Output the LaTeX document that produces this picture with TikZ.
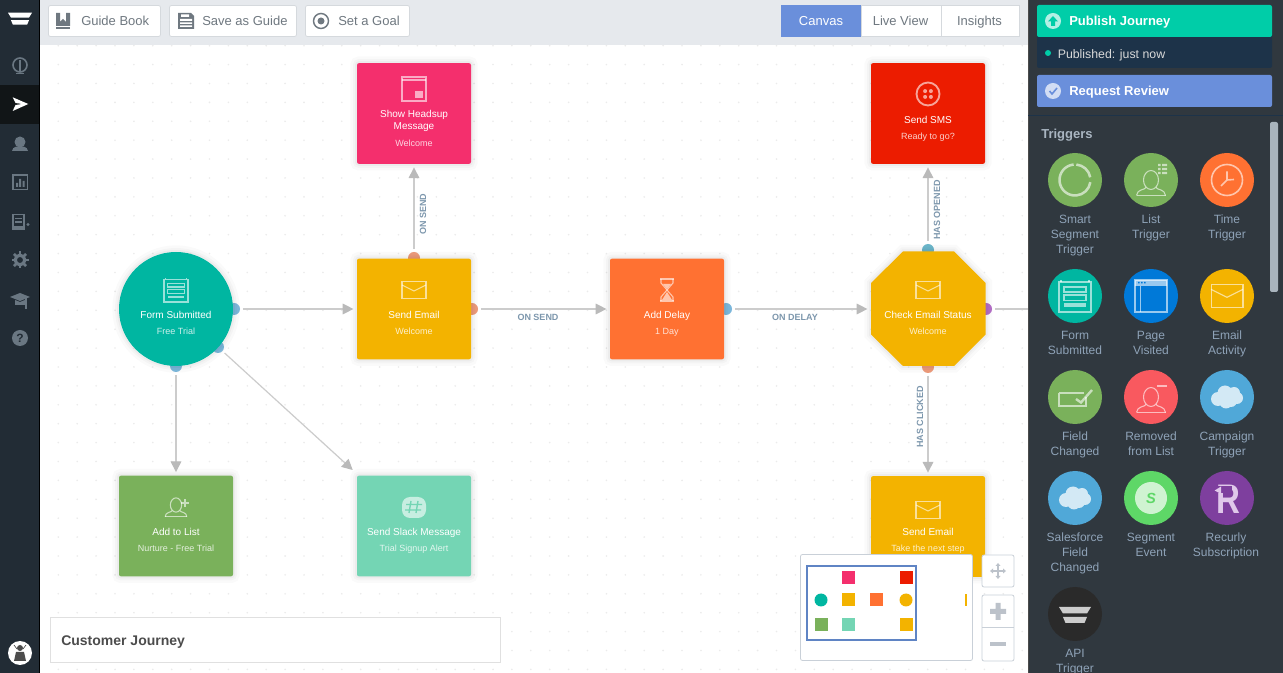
\documentclass[tikz,border=0pt]{standalone}
\usepackage{fontspec}
\setmainfont{Liberation Sans}
\usepackage{xcolor}
\usetikzlibrary{calc}
\usetikzlibrary{arrows.meta}

\definecolor{sideBg}{HTML}{222C35}
\definecolor{sideOn}{HTML}{111517}
\definecolor{sideIc}{HTML}{6A7782}
\definecolor{barBg}{HTML}{E6E9ED}
\definecolor{btnLine}{HTML}{D5D9DD}
\definecolor{boxLine}{HTML}{C9D0D8}
\definecolor{ctlIc}{HTML}{BCC2CA}
\definecolor{btnTxt}{HTML}{6F7880}
\definecolor{blueOn}{HTML}{6A8FDB}
\definecolor{mapBlue}{HTML}{5F84C4}
\definecolor{panelBg}{HTML}{30383F}
\definecolor{pubGreen}{HTML}{00CDA8}
\definecolor{pubDark}{HTML}{1D3349}
\definecolor{trigTxt}{HTML}{8FA3B8}
\definecolor{headTxt}{HTML}{A9B5C1}
\definecolor{scrollBar}{HTML}{A9B4BD}
\definecolor{edgeTxt}{HTML}{7D97AD}
\definecolor{cPink}{HTML}{F42F6D}
\definecolor{cRed}{HTML}{EC1C00}
\definecolor{cYellow}{HTML}{F3B300}
\definecolor{cOrange}{HTML}{FF7132}
\definecolor{cTeal}{HTML}{00B6A1}
\definecolor{cGreen}{HTML}{7AB15B}
\definecolor{cMint}{HTML}{74D5B4}
\definecolor{cBlue}{HTML}{0079D8}
\definecolor{cCoral}{HTML}{F9595F}
\definecolor{cSky}{HTML}{50A8D8}
\definecolor{cLime}{HTML}{5ED767}
\definecolor{cPurple}{HTML}{7E3F9E}
\definecolor{cLilac}{HTML}{E0C8EA}
\definecolor{cBlack}{HTML}{2A2A2A}
\definecolor{portBlue}{HTML}{7DB9DD}
\definecolor{portOrange}{HTML}{EE9C7C}
\definecolor{portPurple}{HTML}{B56FC8}
\definecolor{portTeal}{HTML}{6DB8CC}

\tikzset{
  softshadow/.style={
    preaction={draw=black,draw opacity=.02,line width=10pt},
    preaction={draw=black,draw opacity=.025,line width=6pt},
    preaction={draw=black,draw opacity=.03,line width=3pt}},
  stepbox/.style={rectangle,rounded corners=1.5pt,minimum width=85.5pt,minimum height=75.5pt,inner sep=0pt,softshadow},
  stepround/.style={circle,minimum size=85.5pt,inner sep=0pt,softshadow},
  port/.style={circle,minimum size=9pt,inner sep=0pt},
  conn/.style={draw=black!20,line width=.9pt,-{Triangle[length=8pt,width=8pt,color=black!27]},shorten <=2pt,shorten >=2.5pt},
  titletxt/.style={text=white,anchor=base,font=\fontsize{7.5}{9}\selectfont,align=center,inner sep=0pt},
  subtxt/.style={text=white,anchor=base,text opacity=.8,font=\fontsize{6.75}{8}\selectfont,inner sep=0pt},
  edgelab/.style={text=edgeTxt,font=\bfseries\fontsize{6.75}{8}\selectfont,inner sep=0pt},
  icon/.style={draw=white,draw opacity=.6,line width=.8pt},
  iconf/.style={fill=white,fill opacity=.6},
  btn/.style={draw=btnLine,fill=white,rounded corners=1.5pt,line width=.6pt},
  btntxt/.style={text=btnTxt,anchor=base,font=\fontsize{9.75}{12}\selectfont,inner sep=0pt},
  paneltxt/.style={text=white,anchor=base west,inner sep=0pt,font=\bfseries\fontsize{9.75}{12}\selectfont},
  trig/.style={circle,minimum size=40.5pt,inner sep=0pt},
  triglab/.style={text=trigTxt,anchor=north,align=center,inner sep=0pt,font=\fontsize{9}{11.25}\selectfont},
  mini/.style={rectangle,minimum size=9.75pt,inner sep=0pt},
  sideic/.style={draw=sideIc,line width=1.2pt},
  mailic/.pic={
    \draw[icon] (-12,-8.5) rectangle (12,8.5);
    \draw[icon] (-12,-5) -- (0,1) -- (12,-5);},
  formic/.pic={
    \draw[icon] (-16,-14) rectangle (16,16);
    \draw[icon] (-14,-16) -- (-14,-14) (14,-16) -- (14,-14);
    \draw[icon] (-11,-9) rectangle (11,-4);
    \draw[icon] (-11,-1) rectangle (11,4.5);
    \fill[iconf] (-11,7.5) rectangle (11,11);},
  personic/.pic={
    \draw[icon] (0,0) ellipse (7.5 and 9.5);
    \draw[icon] (-14.5,15.5) .. controls (-14,9) and (-6,10) .. (-5,7.5);
    \draw[icon] (14.5,15.5) .. controls (14,9) and (6,10) .. (5,7.5);
    \draw[icon] (-14.5,15.5) -- (14.5,15.5);},
  cloudic/.pic={
    \fill[fill=#1] (-9,2) circle (7) (-2,-4) circle (7.5) (7,-4) circle (6) (10,1) circle (6) (-1,5) circle (6.5) (4,4) circle (6);},
  logoic/.pic={
    \fill[fill=#1] (-16,-7) -- (16,-7) -- (12,-.5) -- (-12,-.5) -- cycle;
    \fill[fill=#1] (-12,3) -- (12,3) -- (9.5,9) -- (-9.5,9) -- cycle;},
}

\begin{document}
\begin{tikzpicture}[x=0.75pt,y=-0.75pt]
\useasboundingbox (0,0) rectangle (1283,673);
\fill[white] (0,0) rectangle (1283,673);

\foreach \i in {0,...,51}
  \foreach \j in {0,...,33}
    \fill[black!8] (58.3+\i*18.9,45.7+\j*18.9) circle (.9);

\coordinate (offRight) at (1032,309);

\node[port,fill=portBlue] (formE) at (234,309) {};
\node[port,fill=portBlue] (formSE) at (218,347) {};
\node[port,fill=portBlue] (formS) at (176,366) {};
\node[port,fill=portOrange] (emailN) at (414,258) {};
\node[port,fill=portOrange] (emailE) at (472,309) {};
\node[port,fill=portBlue] (delayE) at (726,309) {};
\node[port,fill=portTeal] (checkN) at (928,250) {};
\node[port,fill=portPurple] (checkE) at (986,309) {};
\node[port,fill=portOrange] (checkS) at (928,367) {};

\node[stepround,fill=cTeal] (form) at (176,309) {};
\node[stepbox,fill=cYellow] (email) at (414,309) {};
\node[stepbox,fill=cPink] (headsup) at (414,113.5) {};
\node[stepbox,fill=cOrange] (delay) at (667,309) {};
\path[softshadow,fill=cYellow] (903,251.5) -- (954,251.5) -- (985.5,283) -- (985.5,334.5) -- (954,366) -- (903,366) -- (871,334.5) -- (871,283) -- cycle;
\node[circle,minimum size=85.5pt,inner sep=0pt] (check) at (928,309) {};
\node[stepbox,fill=cRed] (sms) at (928,113.5) {};
\node[stepbox,fill=cYellow] (email2) at (928,526.5) {};
\node[stepbox,fill=cGreen] (addlist) at (176,526) {};
\node[stepbox,fill=cMint] (slack) at (414,526) {};

\draw[conn] (formE) -- (email);
\draw[conn] (formS) -- (addlist);
\draw[conn,shorten >=6pt] (formSE) -- (slack);
\draw[conn] (emailN) -- (headsup);
\draw[conn] (emailE) -- (delay);
\draw[conn] (delayE) -- (check);
\draw[conn] (checkN) -- (sms);
\draw[conn] (checkS) -- (email2);
\draw[conn,-] (checkE) -- (offRight);

\node[edgelab,rotate=90] (lblSendUp) at (423,214) {ON SEND};
\node[edgelab] (lblSend) at (538,317.5) {ON SEND};
\node[edgelab] (lblDelay) at (795,317.5) {ON DELAY};
\node[edgelab,rotate=90] (lblOpened) at (937,210) {HAS OPENED};
\node[edgelab,rotate=90] (lblClicked) at (920,417) {HAS CLICKED};

\pic[scale=.75] at (176,290) {formic};
\node[titletxt] (formT) at (176,319) {Form Submitted};
\node[subtxt] (formS2) at (176,335) {Free Trial};

\pic at (414,290) {mailic};
\node[titletxt] (emailT) at (414,319) {Send Email};
\node[subtxt] (emailS2) at (414,335) {Welcome};

\draw[icon] (402,77) rectangle (426,101);
\draw[icon] (402,80) -- (426,80);
\fill[iconf] (415,91) rectangle (423,98);
\node[titletxt,anchor=center] (headsupT) at (414,121) {Show Headsup\\Message};
\node[subtxt] (headsupS2) at (414,146.5) {Welcome};

\draw[icon] (660,279) -- (674,279) (660,301) -- (674,301);
\draw[icon] (661,279) -- (661,283) -- (667,290) -- (661,297) -- (661,301);
\draw[icon] (673,279) -- (673,283) -- (667,290) -- (673,297) -- (673,301);
\fill[iconf] (663,284) -- (671,284) -- (667,289) -- cycle;
\fill[iconf] (667,292) -- (672,300) -- (662,300) -- cycle;
\node[titletxt] (delayT) at (667,319) {Add Delay};
\node[subtxt] (delayS2) at (667,335) {1 Day};

\pic at (928,290) {mailic};
\node[titletxt] (checkT) at (928,319) {Check Email Status};
\node[subtxt] (checkS2) at (928,335) {Welcome};

\draw[icon,line width=1.4pt] (928,94) circle (11.5);
\foreach \dx in {-2.9,2.9}
  \foreach \dy in {-2.9,2.9}
    \fill[iconf] (928+\dx,94+\dy) circle (2);
\node[titletxt] (smsT) at (928,123.5) {Send SMS};
\node[subtxt] (smsS2) at (928,140) {Ready to go?};

\pic at (928,510) {mailic};
\node[titletxt] (email2T) at (928,536) {Send Email};
\node[subtxt] (email2S2) at (928,552) {Take the next step};

\pic[scale=.75] at (176,505) {personic};
\draw[icon] (185,499) -- (185,507) (181,503) -- (189,503);
\node[titletxt] (addlistT) at (176,536) {Add to List};
\node[subtxt] (addlistS2) at (176,552) {Nurture - Free Trial};

\fill[iconf,rounded corners=6pt] (402,497) rectangle (426,518);
\draw[draw=cMint,line width=1pt] (411,501) -- (409,513) (418,501) -- (416,513) (406,504.5) -- (422,504.5) (405,510) -- (421,510);
\node[titletxt] (slackT) at (414,536) {Send Slack Message};
\node[subtxt] (slackS2) at (414,552) {Trial Signup Alert};

\fill[barBg] (40,0) rectangle (1028,45);
\draw[btn] (48.5,5.5) rectangle (160.5,36.5);
\draw[btn] (169.5,5.5) rectangle (296.5,36.5);
\draw[btn] (305.5,5.5) rectangle (409.5,36.5);
\fill[btnTxt] (56,13) -- (60,13) -- (60,22) -- (63,19) -- (66,22) -- (66,13) -- (70,13) -- (70,26) -- (56,26) -- cycle;
\fill[btnTxt] (56,27.5) rectangle (70,29);
\fill[btnTxt] (178,13) -- (191,13) -- (194,16) -- (194,29) -- (178,29) -- cycle;
\fill[white] (180,19) rectangle (192,21) (180,22.5) rectangle (192,24) (180,25.5) rectangle (192,27) (181,14.5) rectangle (189,17);
\draw[btnTxt,line width=1.1pt] (321,21) circle (7.5);
\fill[btnTxt] (321,21) circle (3.5);
\node[btntxt,anchor=base west] (guideT) at (81,25.5) {Guide Book};
\node[btntxt,anchor=base west] (saveT) at (202,25.5) {Save as Guide};
\node[btntxt,anchor=base west] (goalT) at (338,25.5) {Set a Goal};

\draw[btn,sharp corners,draw=blueOn,fill=blueOn] (781.5,5.5) rectangle (861,36.5);
\draw[btn,sharp corners] (861,5.5) rectangle (941,36.5);
\draw[btn,sharp corners] (941,5.5) rectangle (1019.5,36.5);
\node[btntxt,text=white] (canvasT) at (821,25.5) {Canvas};
\node[btntxt] (liveT) at (900.5,25.5) {Live View};
\node[btntxt] (insightsT) at (979.5,25.5) {Insights};

\fill[sideBg] (0,0) rectangle (39,673);
\fill[black] (39,0) rectangle (40,673);
\fill[sideOn] (0,85) rectangle (39,124);
\pic[scale=.75] at (20,18) {logoic=white};
\draw[sideic] (20,65) circle (7);
\draw[sideic] (20,60) -- (20,72) (16,73.5) -- (24,73.5);
\fill[white] (12.7,97.3) -- (28.3,104) -- (12.7,111) -- (15.5,105) -- (22,104) -- (15.5,103) -- cycle;
\fill[sideIc] (20,142) circle (5.5);
\fill[sideIc] (12,151) .. controls (13,146) and (17,147) .. (20,146) .. controls (23,147) and (27,146) .. (28,151) -- cycle;
\draw[sideic] (12.8,175) rectangle (27.5,189.5);
\fill[sideIc] (16,183) rectangle (18,187) (19.2,179) rectangle (21.2,187) (22.5,181) rectangle (24.5,187);
\draw[sideic] (13,214.5) rectangle (24,227);
\draw[sideic] (15,218.5) -- (22,218.5) (15,222) -- (22,222) (12,229) -- (25,229);
\fill[sideIc] (28,224.5) circle (1.7);
\draw[sideic,line width=2.4pt] (20,260) circle (4.8);
\foreach \a in {0,45,...,315}
  \draw[sideic,line width=2pt] (20,260) ++(\a:5.5) -- ++(\a:3);
\fill[sideIc] (10,297) -- (20,293) -- (30,297) -- (20,301) -- cycle;
\fill[sideIc] (15,300) -- (20,302) -- (25,300) -- (25,305) -- (15,305) -- cycle;
\draw[sideic,line width=.8pt] (26,298) -- (26,309);
\fill[sideIc] (20,338) circle (8);
\node[text=sideBg,inner sep=0pt,font=\bfseries\fontsize{9}{9}\selectfont] (helpT) at (20,338) {?};
\fill[white] (20,653) circle (12);
\fill[black!70] (20,648) circle (3) (14,661) -- (16,652) -- (24,652) -- (26,661) -- cycle;
\draw[black!70,line width=.5pt] (14,645) -- (17,649) (26,645) -- (23,649);

\draw[draw=black!12,fill=white,line width=.6pt] (50.5,617.5) rectangle (500.5,662.5);
\node[paneltxt,text=black!70,font=\bfseries\fontsize{10.5}{12}\selectfont] (journeyT) at (61,645.5) {Customer Journey};

\draw[btn,draw=boxLine] (800.5,554.5) rectangle (972.5,660.5);
\draw[mapBlue,line width=1.5pt] (807,566.5) rectangle (916,640);
\foreach \nm/\xx/\yy/\cc in {mmHead/848/578/cPink,mmSms/906/578/cRed,mmEmail/848/600/cYellow,mmDelay/876.5/600/cOrange,mmAdd/821/624.5/cGreen,mmSlack/848/624.5/cMint,mmEmail2/906/624.5/cYellow}
  \node[mini,fill=\cc] (\nm) at (\xx,\yy) {};
\node[mini,circle,fill=cTeal] (mmForm) at (821,600) {};
\node[mini,circle,fill=cYellow] (mmCheck) at (906,600) {};
\node[rectangle,fill=cYellow,inner sep=0pt,minimum width=1.5pt,minimum height=9pt] (mmNext) at (966,600) {};

\draw[btn,draw=boxLine] (982,555) rectangle (1014,587);
\draw[btn,draw=boxLine] (982,595) rectangle (1014,661);
\draw[boxLine] (982,627.5) -- (1014,627.5);
\draw[ctlIc,line width=1pt] (992,571) -- (1004,571) (998,565) -- (998,577);
\fill[ctlIc] (990,571) -- (993,568.5) -- (993,573.5) -- cycle (1006,571) -- (1003,568.5) -- (1003,573.5) -- cycle (998,563) -- (995.5,566) -- (1000.5,566) -- cycle (998,579) -- (995.5,576) -- (1000.5,576) -- cycle;
\fill[ctlIc] (990,609) rectangle (1006,614) (995.5,603) rectangle (1000.5,620);
\fill[ctlIc] (990,642) rectangle (1006,646.5);

\fill[panelBg] (1028,0) rectangle (1283,673);
\draw[black!70,line width=.5pt] (1028.3,0) -- (1028.3,673);
\fill[pubDark,rounded corners=1.5pt] (1037,30) rectangle (1272,68);
\fill[pubGreen,rounded corners=1.5pt] (1037,5) rectangle (1272,37);
\fill[blueOn,rounded corners=1.5pt] (1037,75) rectangle (1272,107);
\draw[pubDark,line width=.5pt] (1028,115) -- (1283,115);
\fill[white,fill opacity=.7] (1053,21) circle (8);
\fill[pubGreen] (1053,16) -- (1058,21.5) -- (1055,21.5) -- (1055,26) -- (1051,26) -- (1051,21.5) -- (1048,21.5) -- cycle;
\fill[white,fill opacity=.7] (1053,91) circle (8);
\draw[blueOn,line width=1.2pt] (1049.5,91) -- (1052,94) -- (1057,88);
\fill[pubGreen] (1048,53) circle (3);
\node[paneltxt] (publishT) at (1069,26) {Publish Journey};
\node[paneltxt,text=black!15,font=\fontsize{9.25}{11}\selectfont] (publishedT) at (1057.5,58.5) {Published: just now};
\node[paneltxt] (reviewT) at (1069,96) {Request Review};
\node[paneltxt,text=headTxt] (triggersT) at (1041,138.5) {Triggers};
\fill[scrollBar,rounded corners=1.5pt] (1270,122) rectangle (1278,292);

\node[trig,fill=cGreen] (smart) at (1075,180) {};
\draw[icon,line width=1.9pt] ($(1075,180)+(-95:15.5)$) arc[start angle=-95,end angle=-352,radius=15.5];
\draw[icon,line width=1.9pt] ($(1075,180)+(-85:15.5)$) arc[start angle=-85,end angle=-10,radius=15.5];
\node[triglab] (smartT) at (1075,214.5) {Smart\\Segment\\Trigger};

\node[trig,fill=cGreen] (listtrig) at (1151,180) {};
\pic at (1151,180) {personic};
\foreach \yy in {165,169,173}
  \fill[iconf] (1158,\yy-1.2) rectangle (1160.5,\yy+1.2) (1162,\yy-1.2) rectangle (1167,\yy+1.2);
\node[triglab] (listT) at (1151,214.5) {List\\Trigger};

\node[trig,fill=cOrange] (timetrig) at (1227,180) {};
\draw[icon,line width=1.2pt] (1227,180) circle (15.5);
\draw[icon,line width=1.2pt] (1227,171.5) -- (1227,180) -- (1234,179.5) (1227,180) -- (1221,186);
\node[triglab] (timeT) at (1227,214.5) {Time\\Trigger};

\node[trig,fill=cTeal] (formtrig) at (1075,296) {};
\pic at (1075,296) {formic};
\node[triglab] (formtrigT) at (1075,330.5) {Form\\Submitted};

\node[trig,fill=cBlue] (pagetrig) at (1151,296) {};
\draw[icon] (1135,280) rectangle (1167,312);
\fill[iconf] (1135,280) rectangle (1167,286);
\fill[cBlue] (1138,282) rectangle (1139.5,283.5) (1141,282) rectangle (1142.5,283.5) (1144,282) rectangle (1145.5,283.5);
\draw[icon] (1140.5,286) -- (1140.5,312);
\node[triglab] (pagetrigT) at (1151,330.5) {Page\\Visited};

\node[trig,fill=cYellow] (emailtrig) at (1227,296) {};
\pic[scale=1.33] at (1227,296) {mailic};
\node[triglab] (emailtrigT) at (1227,330.5) {Email\\Activity};

\node[trig,fill=cGreen] (field) at (1075,397) {};
\draw[icon,line width=1.1pt] (1059,393) -- (1059,406) -- (1086,406) -- (1086,397) (1084,393) -- (1059,393);
\draw[icon,line width=1.8pt] (1076,399) -- (1081,402.5) -- (1092,390);
\node[triglab] (fieldT) at (1075,431.5) {Field\\Changed};

\node[trig,fill=cCoral] (removed) at (1151,397) {};
\pic at (1151,397) {personic};
\draw[icon,line width=1.1pt] (1157,386) -- (1167,386);
\node[triglab] (removedT) at (1151,431.5) {Removed\\from List};

\node[trig,fill=cSky] (campaign) at (1227,397) {};
\pic at (1227,397) {cloudic=white!75!cSky};
\node[triglab] (campaignT) at (1227,431.5) {Campaign\\Trigger};

\node[trig,fill=cSky] (salesforce) at (1075,498) {};
\pic at (1075,498) {cloudic=white!75!cSky};
\node[triglab] (salesforceT) at (1075,532.5) {Salesforce\\Field\\Changed};

\node[trig,fill=cLime] (segment) at (1151,498) {};
\fill[white,fill opacity=.7] (1151,498) circle (16);
\node[inner sep=0pt,text=cLime,font=\bfseries\itshape\fontsize{11}{11}\selectfont] (segmentS) at (1151,498) {S};
\node[triglab] (segmentT) at (1151,532.5) {Segment\\Event};

\node[trig,fill=cPurple] (recurly) at (1227,498) {};
\node[inner sep=0pt,xscale=.8,text=cLilac,font=\bfseries\fontsize{31}{31}\selectfont] (recurlyR) at (1228,499) {R};
\fill[cPurple] (1218,486) rectangle (1232,493);
\fill[cLilac] (1214.7,490.5) -- (1221,486.5) -- (1221,494) -- cycle;
\node[triglab] (recurlyT) at (1226,532.5) {Recurly\\Subscription};

\node[trig,fill=cBlack] (api) at (1075,614) {};
\pic at (1075,614) {logoic=black!20};
\node[triglab] (apiT) at (1075,648.5) {API\\Trigger};
\end{tikzpicture}
\end{document}
